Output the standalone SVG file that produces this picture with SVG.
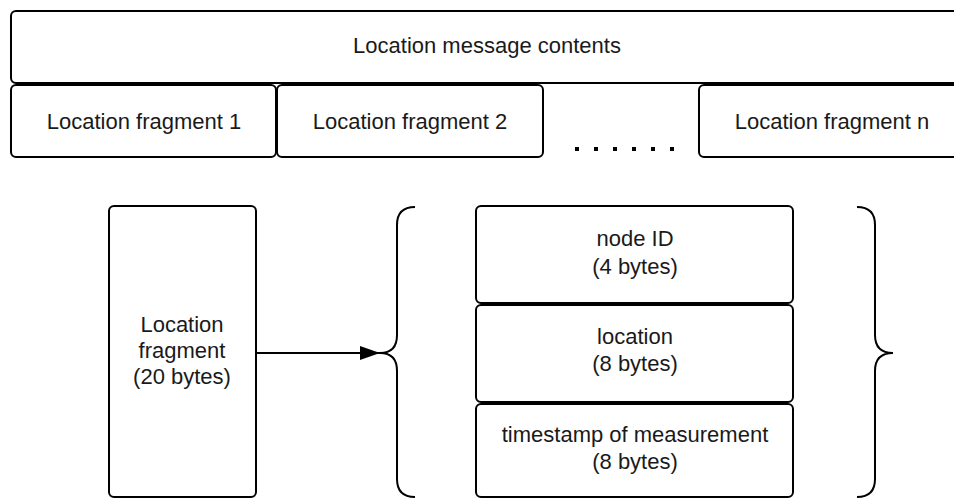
<svg xmlns="http://www.w3.org/2000/svg" width="954" height="499" viewBox="0 0 954 499">
<defs>
<style>
.b{fill:#fff;stroke:#000;stroke-width:2}
.t{font-family:"Liberation Sans",Arial,sans-serif;font-size:22px;fill:#1a1a1a;text-anchor:middle}
.c{fill:none;stroke:#000;stroke-width:2}
</style>
<marker id="ah" markerWidth="20" markerHeight="14" refX="20" refY="7" orient="auto" markerUnits="userSpaceOnUse">
<path d="M0,0 L20,7 L0,14 Z" fill="#000"/>
</marker>
</defs>
<rect width="954" height="499" fill="#fff"/>
<g id="msg"><rect class="b" x="11" y="11" width="960" height="72" rx="5"/><text class="t" x="487" y="53">Location message contents</text></g>
<g id="frag1"><rect class="b" x="11" y="85" width="265" height="72" rx="5"/><text class="t" x="144" y="129">Location fragment 1</text></g>
<g id="frag2"><rect class="b" x="277" y="85" width="266" height="72" rx="5"/><text class="t" x="410" y="129">Location fragment 2</text></g>
<g id="fragn"><rect class="b" x="699" y="85" width="270" height="72" rx="5"/><text class="t" x="832" y="129">Location fragment n</text></g>
<g id="dots" fill="#000">
<rect x="575" y="147" width="4" height="4"/><rect x="594" y="147" width="4" height="4"/><rect x="613" y="147" width="4" height="4"/><rect x="632" y="147" width="4" height="4"/><rect x="651" y="147" width="4" height="4"/><rect x="670" y="147" width="4" height="4"/>
</g>
<g id="frag"><rect class="b" x="109" y="206" width="147" height="291" rx="5"/><text class="t" x="182" y="332">Location</text><text class="t" x="182" y="358">fragment</text><text class="t" x="182" y="384">(20 bytes)</text></g>
<g id="nodeid"><rect class="b" x="476" y="206" width="317" height="97" rx="5"/><text class="t" x="635" y="246">node ID</text><text class="t" x="635" y="274">(4 bytes)</text></g>
<g id="location"><rect class="b" x="476" y="305" width="317" height="97" rx="5"/><text class="t" x="635" y="344">location</text><text class="t" x="635" y="371">(8 bytes)</text></g>
<g id="timestamp"><rect class="b" x="476" y="404" width="317" height="93" rx="5"/><text class="t" x="635" y="442">timestamp of measurement</text><text class="t" x="635" y="469">(8 bytes)</text></g>
<g id="connectors">
<path class="c" d="M415,207 Q397,207 397,225 L397,335 Q397,353 380,353 Q397,353 397,371 L397,479 Q397,497 415,497"/>
<path class="c" d="M857,207 Q875,207 875,225 L875,335 Q875,353 893,353 Q875,353 875,371 L875,479 Q875,497 857,497"/>
<line class="c" x1="256" y1="353" x2="380" y2="353" marker-end="url(#ah)"/>
</g>
</svg>
